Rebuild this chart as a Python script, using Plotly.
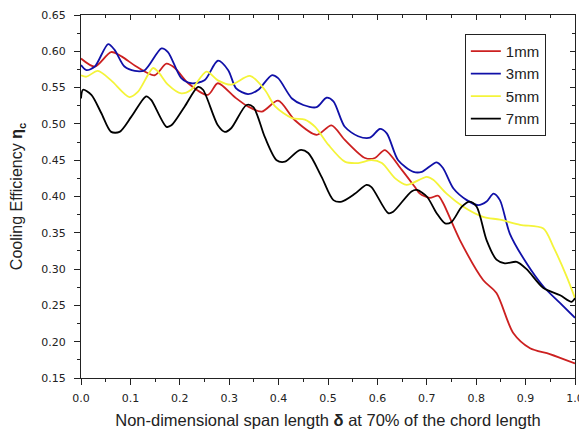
import plotly.graph_objects as go

# ---- data ----
x_1mm = [0.0, 0.028, 0.061, 0.082, 0.112, 0.149, 0.173, 0.190, 0.217, 0.257, 0.277, 0.311, 0.338,
         0.366, 0.399, 0.433, 0.477, 0.507, 0.534, 0.575, 0.595, 0.615, 0.649, 0.676, 0.686,
         0.706, 0.723, 0.733, 0.767, 0.814, 0.841, 0.875, 0.909, 0.949, 1.0]
y_1mm = [0.590, 0.579, 0.599, 0.593, 0.579, 0.567, 0.583, 0.577, 0.556, 0.540, 0.556, 0.537, 0.524,
         0.517, 0.532, 0.505, 0.485, 0.498, 0.478, 0.453, 0.453, 0.464, 0.437, 0.413, 0.404,
         0.398, 0.401, 0.391, 0.340, 0.285, 0.267, 0.212, 0.191, 0.183, 0.170]

x_3mm = [0.0, 0.011, 0.028, 0.055, 0.068, 0.088, 0.109, 0.129, 0.163, 0.176, 0.203, 0.223, 0.250,
         0.277, 0.298, 0.314, 0.338, 0.359, 0.386, 0.399, 0.427, 0.450, 0.477, 0.497, 0.511,
         0.534, 0.561, 0.585, 0.605, 0.619, 0.642, 0.673, 0.690, 0.720, 0.733, 0.754, 0.781,
         0.804, 0.821, 0.835, 0.848, 0.868, 0.902, 0.936, 0.970, 1.0]
y_3mm = [0.581, 0.574, 0.579, 0.610, 0.602, 0.579, 0.573, 0.574, 0.604, 0.599, 0.563, 0.556, 0.560,
         0.587, 0.574, 0.549, 0.541, 0.547, 0.567, 0.563, 0.535, 0.526, 0.523, 0.536, 0.531,
         0.496, 0.483, 0.481, 0.493, 0.487, 0.450, 0.434, 0.434, 0.447, 0.439, 0.411, 0.395,
         0.388, 0.393, 0.404, 0.395, 0.349, 0.308, 0.276, 0.253, 0.233]

x_5mm = [0.0, 0.011, 0.034, 0.061, 0.098, 0.115, 0.146, 0.156, 0.176, 0.203, 0.223, 0.254, 0.277,
         0.304, 0.342, 0.372, 0.393, 0.427, 0.453, 0.474, 0.501, 0.534, 0.561, 0.588, 0.609,
         0.636, 0.659, 0.700, 0.713, 0.740, 0.774, 0.814, 0.848, 0.889, 0.936, 0.956, 0.983, 1.0]
y_5mm = [0.567, 0.565, 0.573, 0.560, 0.537, 0.544, 0.577, 0.572, 0.554, 0.542, 0.547, 0.572, 0.560,
         0.554, 0.566, 0.547, 0.524, 0.508, 0.506, 0.496, 0.471, 0.448, 0.446, 0.450, 0.446,
         0.425, 0.416, 0.427, 0.423, 0.404, 0.386, 0.372, 0.368, 0.361, 0.356, 0.331, 0.290, 0.260]

x_7mm = [0.0, 0.004, 0.021, 0.041, 0.061, 0.078, 0.102, 0.132, 0.142, 0.173, 0.183, 0.210, 0.237,
         0.247, 0.277, 0.291, 0.304, 0.335, 0.349, 0.372, 0.396, 0.413, 0.443, 0.460, 0.487,
         0.511, 0.528, 0.555, 0.578, 0.588, 0.622, 0.632, 0.669, 0.680, 0.700, 0.720, 0.737,
         0.750, 0.771, 0.787, 0.801, 0.821, 0.841, 0.858, 0.882, 0.902, 0.936, 0.970, 0.993, 1.0]
y_7mm = [0.535, 0.547, 0.540, 0.515, 0.489, 0.489, 0.510, 0.538, 0.533, 0.496, 0.498, 0.524, 0.551,
         0.547, 0.498, 0.489, 0.494, 0.526, 0.523, 0.482, 0.450, 0.448, 0.464, 0.460, 0.427,
         0.395, 0.393, 0.404, 0.416, 0.413, 0.377, 0.379, 0.407, 0.409, 0.400, 0.377, 0.363,
         0.365, 0.386, 0.393, 0.386, 0.340, 0.313, 0.308, 0.310, 0.300, 0.274, 0.264, 0.255, 0.260]

series = [
    ("1mm", x_1mm, y_1mm, "#cc2020"),
    ("3mm", x_3mm, y_3mm, "#1010a8"),
    ("5mm", x_5mm, y_5mm, "#f4f43a"),
    ("7mm", x_7mm, y_7mm, "#000000"),
]

x_ticks = [0.0, 0.1, 0.2, 0.3, 0.4, 0.5, 0.6, 0.7, 0.8, 0.9, 1.0]
y_ticks = [0.15, 0.20, 0.25, 0.30, 0.35, 0.40, 0.45, 0.50, 0.55, 0.60, 0.65]

fig = go.Figure()
for name, xs, ys, col in series:
    fig.add_trace(go.Scatter(x=xs, y=ys, mode="lines", name=name,
                             line=dict(color=col, width=1.8, shape="spline", smoothing=0.8)))
# dummy trace to activate mirrored top/right axes
fig.add_trace(go.Scatter(x=[None], y=[None], xaxis="x2", yaxis="y2", showlegend=False,
                         hoverinfo="skip"))

tickfont = dict(family="DejaVu Sans", size=11, color="#222222")
title_family = "Liberation Sans, Arial"
fig.update_layout(
    width=579, height=431,
    margin=dict(l=81, r=4, t=15, b=53),
    paper_bgcolor="white", plot_bgcolor="white",
    font=dict(family=title_family, color="#222222"),
    xaxis=dict(range=[0, 1.0], tickvals=x_ticks, ticktext=[f"{v:.1f}" for v in x_ticks],
               ticks="outside", ticklen=6, tickwidth=1, tickcolor="#222", showline=True,
               linecolor="#222", linewidth=1, showgrid=False, zeroline=False,
               minor=dict(ticks="outside", ticklen=3, dtick=0.05, tick0=0, tickcolor="#222"),
               tickfont=tickfont, ticklabelstandoff=4, ticklabeloverflow="allow",
               automargin=False,
               title=dict(text="Non-dimensional span length <b>δ</b> at 70% of the chord length",
                          font=dict(size=16.5, family=title_family), standoff=10)),
    yaxis=dict(range=[0.15, 0.65], tickvals=y_ticks, ticktext=[f"{v:.2f}" for v in y_ticks],
               ticks="outside", ticklen=6, tickwidth=1, tickcolor="#222", showline=True,
               linecolor="#222", linewidth=1, showgrid=False, zeroline=False,
               minor=dict(ticks="outside", ticklen=3, dtick=0.025, tick0=0.15, tickcolor="#222"),
               tickfont=tickfont, ticklabelstandoff=6, automargin=False,
               title=dict(text="Cooling Efficiency <b>η</b><sub><b>c</b></sub>",
                          font=dict(size=16, family=title_family), standoff=14)),
    xaxis2=dict(overlaying="x", side="top", range=[0, 1.0], tickvals=x_ticks,
                showticklabels=False, ticks="inside", ticklen=5, tickcolor="#222",
                showline=True, linecolor="#222", linewidth=1, showgrid=False, zeroline=False,
                minor=dict(ticks="inside", ticklen=3, dtick=0.05, tick0=0, tickcolor="#222"),
                anchor="y2", automargin=False),
    yaxis2=dict(overlaying="y", side="right", range=[0.15, 0.65], tickvals=y_ticks,
                showticklabels=False, ticks="inside", ticklen=5, tickcolor="#222",
                showline=True, linecolor="#222", linewidth=1, showgrid=False, zeroline=False,
                minor=dict(ticks="inside", ticklen=3, dtick=0.025, tick0=0.15, tickcolor="#222"),
                anchor="x2", automargin=False),
    legend=dict(x=0.777, y=0.948, xanchor="left", yanchor="top",
                bgcolor="white", bordercolor="#222", borderwidth=1,
                font=dict(family=title_family, size=15, color="#222"),
                tracegroupgap=0, itemwidth=30),
    showlegend=True,
)

fig.write_html("out.html")
